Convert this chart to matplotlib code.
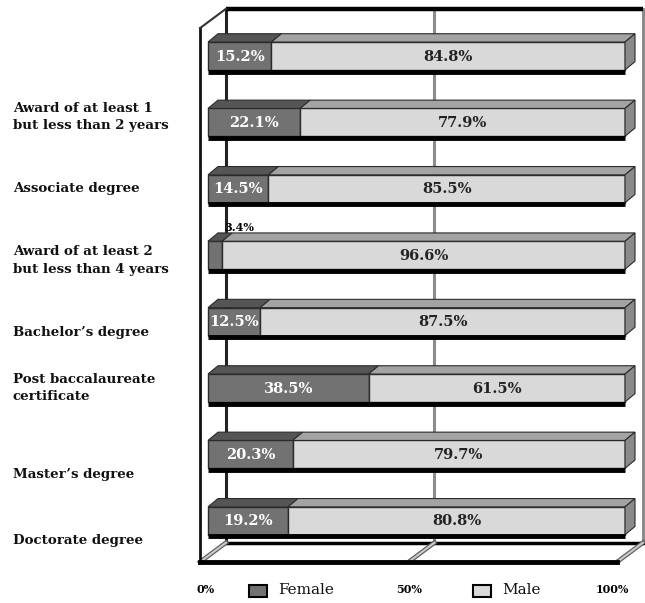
import matplotlib.pyplot as plt
from matplotlib.patches import Polygon, Rectangle

# shares per award level, top bar first
female = [15.2, 22.1, 14.5, 3.4, 12.5, 38.5, 20.3, 19.2]
male = [84.8, 77.9, 85.5, 96.6, 87.5, 61.5, 79.7, 80.8]

# category captions as printed (they sit between the bars in the source)
labels = [
    "Award of at least 1\nbut less than 2 years",
    "Associate degree",
    "Award of at least 2\nbut less than 4 years",
    "Bachelor\u2019s degree",
    "Post baccalaureate\ncertificate",
    "Master\u2019s degree",
    "Doctorate degree",
]
label_rows = [0.92, 1.99, 3.08, 4.17, 5.0, 6.31, 7.30]

tick_values = [0, 50, 100]
tick_labels = ["0%", "50%", "100%"]

C_FEMALE = "#727272"
C_FEMALE_TOP = "#555555"
C_MALE = "#d9d9d9"
C_MALE_TOP = "#a3a3a3"
C_CAP = "#8a8a8a"
EDGE = "#2b2b2b"

# pseudo-3D offsets (data units)
FRONT = -1.9        # front plane of the box relative to bar front
WALL_DX, WALL_DY = 6.2, -0.29
BAR_DX, BAR_DY = 2.4, -0.125
BAR_H = 0.42
TOP_Y, BOT_Y = -0.42, 7.62

fig = plt.figure(figsize=(6.45, 6.03), dpi=100)
ax = fig.add_axes([0, 0, 1, 1])
ax.set_xlim(-49.88, 104.8)
ax.set_ylim(8.238, -0.843)
ax.axis("off")

# back wall lines
for p in tick_values:
    xb = FRONT + p + WALL_DX
    col = "#222222" if p == 0 else "#8c8c8c"
    ax.plot([xb, xb], [TOP_Y + WALL_DY, BOT_Y + WALL_DY], color=col, lw=2.2, zorder=1)
ax.plot([FRONT + WALL_DX, FRONT + 100 + WALL_DX], [TOP_Y + WALL_DY] * 2,
        color="black", lw=3.2, zorder=1, solid_capstyle="butt")
ax.plot([FRONT + WALL_DX, FRONT + 100 + WALL_DX], [BOT_Y + WALL_DY] * 2,
        color="black", lw=2.5, zorder=1)

# left wall
ax.plot([FRONT, FRONT], [TOP_Y, BOT_Y], color="#111111", lw=2, zorder=2)
ax.plot([FRONT, FRONT + WALL_DX], [TOP_Y, TOP_Y + WALL_DY], color="#333333", lw=1.5, zorder=2)

# floor
for p in tick_values:
    xf = FRONT + p
    ax.plot([xf, xf + WALL_DX], [BOT_Y, BOT_Y + WALL_DY], color="#555555", lw=3.2, zorder=1)
    ax.plot([xf, xf + WALL_DX], [BOT_Y, BOT_Y + WALL_DY], color="#c8c8c8", lw=1.6, zorder=1)
ax.plot([FRONT, FRONT + 100], [BOT_Y, BOT_Y], color="black", lw=3.5, zorder=2)

# bars
rows = list(range(len(female)))
ax.barh(rows, female, height=BAR_H, color=C_FEMALE, edgecolor=EDGE, lw=1, zorder=3)
ax.barh(rows, male, left=female, height=BAR_H, color=C_MALE, edgecolor=EDGE, lw=1, zorder=3)

for i, (f, m) in enumerate(zip(female, male)):
    top = i - BAR_H / 2
    bot = i + BAR_H / 2
    for x0, x1, col in [(0, f, C_FEMALE_TOP), (f, f + m, C_MALE_TOP)]:
        ax.add_patch(Polygon([(x0, top), (x1, top), (x1 + BAR_DX, top + BAR_DY),
                              (x0 + BAR_DX, top + BAR_DY)],
                             closed=True, fc=col, ec=EDGE, lw=0.8, zorder=3))
    end = f + m
    ax.add_patch(Polygon([(end, top), (end + BAR_DX, top + BAR_DY),
                          (end + BAR_DX, bot + BAR_DY), (end, bot)],
                         closed=True, fc=C_CAP, ec=EDGE, lw=0.8, zorder=3))
    ax.plot([0, end], [bot + 0.025, bot + 0.025], color="black", lw=3.5, zorder=3,
            solid_capstyle="butt")

    # value labels
    if f >= 8:
        ax.text(f / 2, i + 0.01, f"{f:.1f}%", ha="center", va="center", color="white",
                fontsize=10.5, fontweight="bold", family="DejaVu Serif", zorder=5)
    else:
        ax.text(f + 4, i - 0.41, f"{f:.1f}%", ha="center", va="center", color="black",
                fontsize=8, fontweight="bold", family="DejaVu Serif", zorder=5)
    ax.text(f + m / 2, i + 0.01, f"{m:.1f}%", ha="center", va="center", color="#222222",
            fontsize=10.5, fontweight="bold", family="DejaVu Serif", zorder=5)

# category captions
for lab, r in zip(labels, label_rows):
    ax.text(-46.8, r, lab, ha="left", va="center", fontsize=9.6, fontweight="bold",
            family="DejaVu Serif", color="#111111", linespacing=1.45)

# axis tick labels
for p, t in zip(tick_values, tick_labels):
    ax.text(p * 0.976 - 0.7, 8.04, t, ha="center", va="center", fontsize=8,
            fontweight="bold", family="DejaVu Serif", color="black")

# legend
for x0, fc, txt in [(9.9, C_FEMALE, "Female"), (63.6, C_MALE, "Male")]:
    ax.add_patch(Rectangle((x0, 7.965), 4.3, 0.19, fc=fc, ec="black", lw=1.5, zorder=4))
    ax.text(x0 + 4.3 + 2.6, 8.04, txt, ha="left", va="center", fontsize=11,
            family="DejaVu Serif", color="#111111")

fig.savefig("out.png", dpi=100, facecolor="white")
